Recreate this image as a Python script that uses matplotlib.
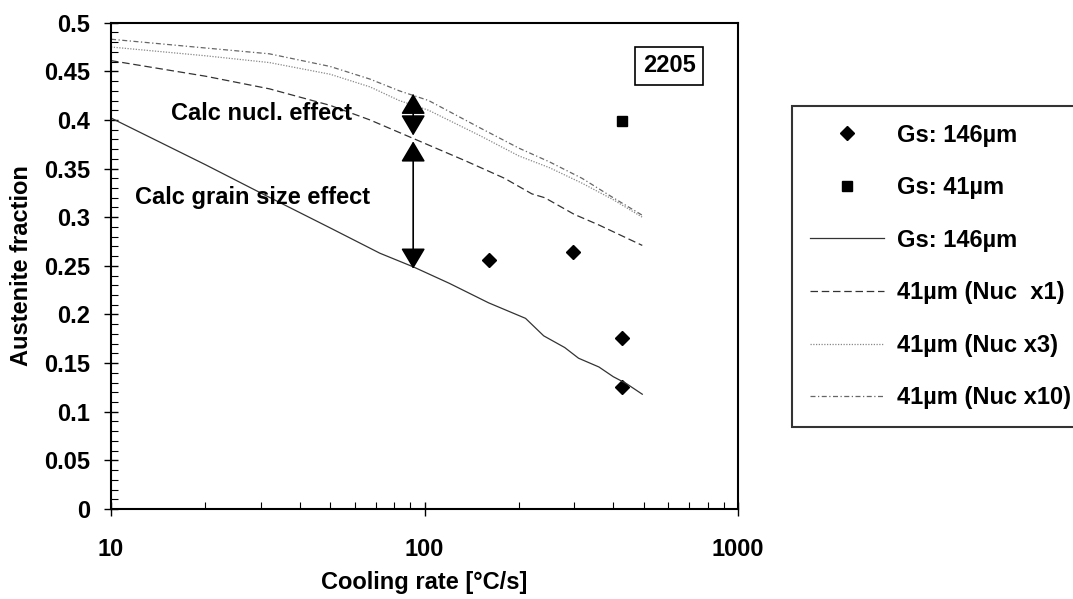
import numpy as np
import matplotlib
matplotlib.use("Agg")
import matplotlib.pyplot as plt
from matplotlib.ticker import FixedLocator, LogLocator, MultipleLocator, NullFormatter

plt.rcParams['font.family'] = ['Liberation Sans', 'DejaVu Sans']
plt.rcParams['font.weight'] = 'bold'
plt.rcParams['axes.labelweight'] = 'bold'
plt.rcParams['font.size'] = 17

# measured points (Gs 146um) and (Gs 41um)
meas146_x = [160, 298, 428, 428]
meas146_y = [0.256, 0.264, 0.176, 0.125]
meas41_x = [428]
meas41_y = [0.399]

# calculated curves
calc146_x = [10, 20, 30, 50, 72, 92, 120, 160, 210, 240, 280, 310, 360, 400, 440, 495]
calc146_y = [0.402, 0.354, 0.325, 0.289, 0.263, 0.249, 0.232, 0.212, 0.196, 0.178,
             0.166, 0.155, 0.146, 0.136, 0.129, 0.118]

nuc1_x = [10, 20, 32, 50, 67, 92, 135, 180, 220, 242, 300, 360, 495]
nuc1_y = [0.461, 0.445, 0.432, 0.415, 0.400, 0.381, 0.358, 0.340, 0.324, 0.320, 0.303, 0.292, 0.271]

nuc3_x = [10, 20, 32, 50, 67, 83, 103, 150, 200, 250, 318, 400, 495]
nuc3_y = [0.475, 0.466, 0.459, 0.447, 0.434, 0.420, 0.410, 0.384, 0.363, 0.351, 0.335, 0.318, 0.300]

nuc10_x = [10, 20, 32, 50, 67, 83, 103, 150, 200, 250, 318, 400, 495]
nuc10_y = [0.483, 0.474, 0.468, 0.455, 0.442, 0.430, 0.420, 0.392, 0.371, 0.357, 0.340, 0.320, 0.302]

# annotation arrows
arrow_x = 92
nucl_arrow = (0.384, 0.427)
grain_arrow = (0.247, 0.378)

yticks = [0, 0.05, 0.1, 0.15, 0.2, 0.25, 0.3, 0.35, 0.4, 0.45, 0.5]
ytick_labels = ['0', '0.05', '0.1', '0.15', '0.2', '0.25', '0.3', '0.35', '0.4', '0.45', '0.5']

fig = plt.figure(figsize=(10.73, 5.99), dpi=100)
ax = fig.add_axes([0.1035, 0.1503, 0.5843, 0.8118])

h1, = ax.plot(meas146_x, meas146_y, 'D', color='black', markersize=7, linestyle='none', label='Gs: 146µm')
h2, = ax.plot(meas41_x, meas41_y, 's', color='black', markersize=7.5, linestyle='none', label='Gs: 41µm')
h3, = ax.plot(calc146_x, calc146_y, '-', color='#333333', lw=0.9, label='Gs: 146µm')
h4, = ax.plot(nuc1_x, nuc1_y, color='#333333', lw=0.9, dashes=(6, 3), label='41µm (Nuc  x1)')
h5, = ax.plot(nuc3_x, nuc3_y, color='#888888', lw=0.9, dashes=(1, 1.2), label='41µm (Nuc x3)')
h6, = ax.plot(nuc10_x, nuc10_y, color='#666666', lw=0.9, dashes=(4, 2, 1, 2), label='41µm (Nuc x10)')

ax.set_xscale('log')
ax.set_xlim(10, 1000)
ax.set_ylim(0, 0.5)

ax.xaxis.set_major_locator(FixedLocator([10, 100, 1000]))
ax.set_xticklabels(['10', '100', '1000'])
ax.xaxis.set_minor_locator(LogLocator(base=10, subs=np.arange(2, 10)))
ax.xaxis.set_minor_formatter(NullFormatter())
ax.set_yticks(yticks)
ax.set_yticklabels(ytick_labels)
ax.yaxis.set_minor_locator(MultipleLocator(0.01))

ax.tick_params(which='major', direction='inout', length=10, width=1)
ax.tick_params(which='minor', direction='in', length=5, width=0.8)
ax.tick_params(axis='y', which='major', pad=10)
ax.tick_params(axis='x', which='major', pad=16)
for s in ax.spines.values():
    s.set_linewidth(1.5)

ax.set_xlabel('Cooling rate [°C/s]', labelpad=7)
ax.set_ylabel('Austenite fraction', labelpad=8)

arrstyle = '<|-|>,head_length=0.64,head_width=0.38'
ax.annotate('', xy=(arrow_x, nucl_arrow[1]), xytext=(arrow_x, nucl_arrow[0]),
            arrowprops=dict(arrowstyle=arrstyle, color='black', lw=1.2,
                            shrinkA=0, shrinkB=0, mutation_scale=20))
ax.annotate('', xy=(arrow_x, grain_arrow[1]), xytext=(arrow_x, grain_arrow[0]),
            arrowprops=dict(arrowstyle=arrstyle, color='black', lw=1.2,
                            shrinkA=0, shrinkB=0, mutation_scale=20))

ax.text(15.5, 0.4066, 'Calc nucl. effect', ha='left', va='center')
ax.text(11.9, 0.32, 'Calc grain size effect', ha='left', va='center')
ax.text(0.89, 0.911, '2205', transform=ax.transAxes, ha='center', va='center',
        bbox=dict(boxstyle='square,pad=0.33', fc='white', ec='black', lw=1.2))

leg = fig.legend(handles=[h1, h2, h3, h4, h5, h6], loc='upper left',
                 bbox_to_anchor=(0.7381, 0.0, 0.3, 0.823), mode='expand',
                 borderaxespad=0, borderpad=0.75, labelspacing=1.25,
                 handlelength=3.13, handletextpad=0.55, numpoints=1,
                 fancybox=False, frameon=True)
leg.get_frame().set_edgecolor('black')
leg.get_frame().set_linewidth(1.5)

fig.savefig('out.png', dpi=100)
